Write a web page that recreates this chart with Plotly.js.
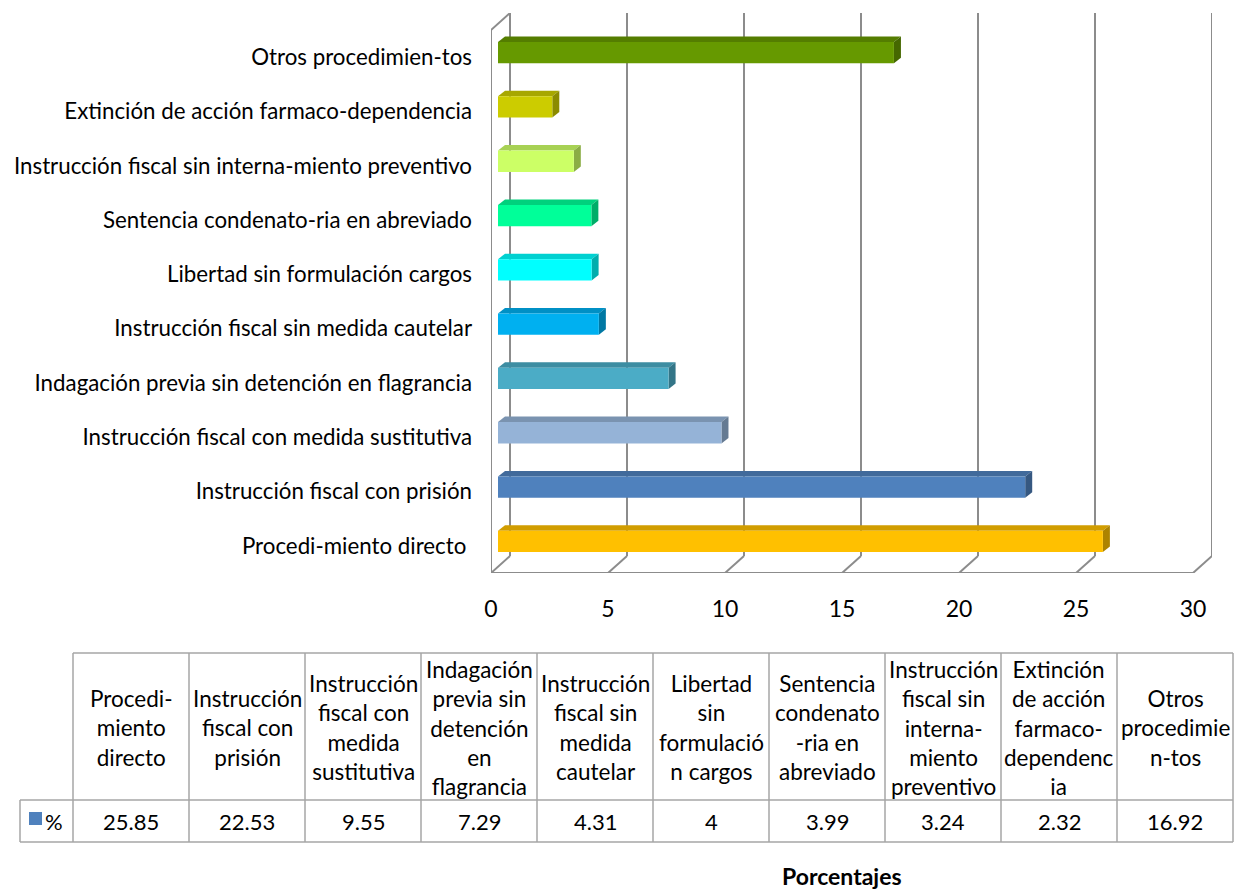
<!DOCTYPE html>
<html>
<head>
<meta charset="utf-8">
<script src="https://cdn.plot.ly/plotly-3.0.1.min.js"></script>
<style>html,body{margin:0;padding:0;background:#fff;}#chart{width:1242px;height:893px;}</style>
</head>
<body>
<div id="chart"></div>
<script>
// ---- data ----
const categories = [
  "Procedi-miento directo ",
  "Instrucción fiscal con prisión",
  "Instrucción fiscal con medida sustitutiva",
  "Indagación previa sin detención en flagrancia",
  "Instrucción fiscal sin medida cautelar",
  "Libertad sin formulación cargos",
  "Sentencia condenato-ria en abreviado",
  "Instrucción fiscal sin interna-miento preventivo",
  "Extinción de acción farmaco-dependencia",
  "Otros procedimien-tos"
];
const tableHeaders = [
  "Procedi-<br>miento<br>directo",
  "Instrucción<br>fiscal con<br>prisión",
  "Instrucción<br>fiscal con<br>medida<br>sustitutiva",
  "Indagación<br>previa sin<br>detención<br>en<br>flagrancia",
  "Instrucción<br>fiscal sin<br>medida<br>cautelar",
  "Libertad<br>sin<br>formulació<br>n cargos",
  "Sentencia<br>condenato<br>-ria en<br>abreviado",
  "Instrucción<br>fiscal sin<br>interna-<br>miento<br>preventivo",
  "Extinción<br>de acción<br>farmaco-<br>dependenc<br>ia",
  "Otros<br>procedimie<br>n-tos"
];
const values = [25.85, 22.53, 9.55, 7.29, 4.31, 4, 3.99, 3.24, 2.32, 16.92];
const valueLabels = ["25.85", "22.53", "9.55", "7.29", "4.31", "4", "3.99", "3.24", "2.32", "16.92"];
const seriesName = "%";
const xTicks = [0, 5, 10, 15, 20, 25, 30];
const xAxisTitle = "Porcentajes";

// ---- style ----
const barColors = ["#FFC000", "#4F81BD", "#95B3D7", "#4BACC6", "#00B0F0", "#00FFFF", "#00FF99", "#CCFF66", "#CCCC00", "#669900"];
const FONT = "Lato, 'Open Sans', sans-serif";
const W = 1242, H = 893;
const X0 = 491, PXU = 23.4, DXP = 19, DYP = 17, YB = 573, PYU = 54.3;
const XMAX = 30;
const DXU = DXP / PXU, DYU = DYP / PYU;
const BOX = 7 / PXU, BOY = 4.5 / PYU, BW = 21.3 / PYU, BDX = 7 / PXU, BDY = 5.5 / PYU;
const gridColor = "#8C8C8C";

function shade(hex, f) {
  const n = parseInt(hex.slice(1), 16);
  const r = Math.round(((n >> 16) & 255) * f), g = Math.round(((n >> 8) & 255) * f), b = Math.round((n & 255) * f);
  return "rgb(" + r + "," + g + "," + b + ")";
}
const fx = p => p / W, fy = p => 1 - p / H;

const shapes = [];
function dline(x0, y0, x1, y1) {
  shapes.push({type: "line", xref: "x", yref: "y", x0, y0, x1, y1, layer: "below",
    line: {color: gridColor, width: 2}});
}
// walls / floor
dline(0, -0.5, XMAX, -0.5);
dline(0, -0.5, 0, categories.length - 0.5);
dline(0, categories.length - 0.5, DXU, categories.length - 0.5 + DYU);
xTicks.forEach(v => {
  dline(v + DXU, -0.5 + DYU, v + DXU, categories.length - 0.5 + DYU);
  dline(v, -0.5, v + DXU, -0.5 + DYU);
});
// bar 3D faces
values.forEach((v, i) => {
  const yc = i + BOY, yt = yc + BW / 2, yb = yc - BW / 2;
  const xs = BOX, xe = BOX + v;
  shapes.push({type: "path", xref: "x", yref: "y", layer: "below",
    path: `M${xs},${yt} L${xe},${yt} L${xe + BDX},${yt + BDY} L${xs + BDX},${yt + BDY} Z`,
    fillcolor: shade(barColors[i], 0.82), line: {width: 0}});
  shapes.push({type: "path", xref: "x", yref: "y", layer: "below",
    path: `M${xe},${yb} L${xe},${yt} L${xe + BDX},${yt + BDY} L${xe + BDX},${yb + BDY} Z`,
    fillcolor: shade(barColors[i], 0.68), line: {width: 0}});
});

// ---- data table ----
const T_LEFT = 20, T_COL0 = 73, T_CW = 116, T_TOP = 653, T_MID = 800, T_BOT = 842;
const tRight = T_COL0 + T_CW * tableHeaders.length;
const tableLine = {color: "#A6A6A6", width: 1.5};
function pline(x0, y0, x1, y1) {
  shapes.push({type: "line", xref: "paper", yref: "paper", x0: fx(x0), y0: fy(y0), x1: fx(x1), y1: fy(y1), line: tableLine});
}
pline(T_COL0, T_TOP, tRight, T_TOP);
pline(T_LEFT, T_MID, tRight, T_MID);
pline(T_LEFT, T_BOT, tRight, T_BOT);
pline(T_LEFT, T_MID, T_LEFT, T_BOT);
for (let k = 0; k <= tableHeaders.length; k++) {
  pline(T_COL0 + k * T_CW, T_TOP, T_COL0 + k * T_CW, T_BOT);
}
// legend key square
shapes.push({type: "rect", xref: "paper", yref: "paper", x0: fx(29), x1: fx(42), y0: fy(825), y1: fy(812),
  fillcolor: barColors[1], line: {width: 0}});

const annotations = [];
tableHeaders.forEach((h, k) => {
  annotations.push({xref: "paper", yref: "paper", x: fx(T_COL0 + (k + 0.5) * T_CW), y: fy((T_TOP + T_MID) / 2 + 1),
    text: h, showarrow: false, xanchor: "center", yanchor: "middle", align: "center",
    font: {family: FONT, size: 22.5, color: "#000"}});
  annotations.push({xref: "paper", yref: "paper", x: fx(T_COL0 + (k + 0.5) * T_CW), y: fy((T_MID + T_BOT) / 2),
    text: valueLabels[k], showarrow: false, xanchor: "center", yanchor: "middle",
    font: {family: FONT, size: 22, color: "#000"}});
});
annotations.push({xref: "paper", yref: "paper", x: fx(54), y: fy(821), text: seriesName, showarrow: false,
  xanchor: "center", yanchor: "middle", font: {family: FONT, size: 22, color: "#000"}});
annotations.push({xref: "paper", yref: "paper", x: fx(842), y: fy(891), text: "<b>" + xAxisTitle + "</b>", showarrow: false,
  xanchor: "center", yanchor: "bottom", borderpad: 0, font: {family: FONT, size: 23, color: "#000"}});

const trace = {
  type: "bar", orientation: "h",
  x: values, y: categories.map((c, i) => i + BOY), base: values.map(() => BOX),
  width: BW, marker: {color: barColors, line: {width: 0}},
  name: seriesName, hoverinfo: "x", showlegend: false
};

const layout = {
  width: W, height: H,
  margin: {l: 0, r: 0, t: 0, b: 0, autoexpand: false},
  paper_bgcolor: "#fff", plot_bgcolor: "rgba(0,0,0,0)",
  showlegend: false,
  xaxis: {
    domain: [fx(X0), fx(X0 + XMAX * PXU + DXP)], range: [0, XMAX + DXU],
    tickvals: xTicks, ticktext: xTicks.map(String), showgrid: false, zeroline: false,
    showline: false, ticks: "", ticklabelstandoff: 20,
    tickfont: {family: FONT, size: 23, color: "#000"}, fixedrange: true
  },
  yaxis: {
    domain: [fy(YB), fy(YB - categories.length * PYU - DYP)], range: [-0.5, categories.length - 0.5 + DYU],
    tickvals: categories.map((c, i) => i), ticktext: categories, showgrid: false, zeroline: false,
    showline: false, ticks: "", ticklabelstandoff: 18,
    tickfont: {family: FONT, size: 22.3, color: "#000"}, fixedrange: true
  },
  shapes, annotations
};

Plotly.newPlot("chart", [trace], layout, {displayModeBar: false, staticPlot: true});
</script>
</body>
</html>
